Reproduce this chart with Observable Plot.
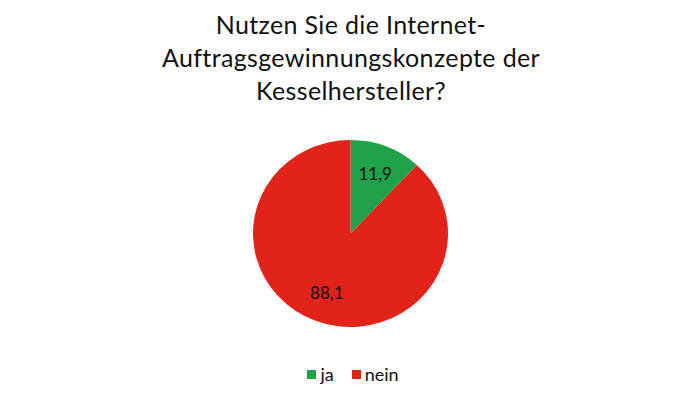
<!DOCTYPE html>
<html>
<head>
<meta charset="utf-8">
<script src="https://cdn.jsdelivr.net/npm/d3@7"></script>
<script src="https://cdn.jsdelivr.net/npm/@observablehq/plot@0.6"></script>
<style>
  html, body { margin: 0; padding: 0; background: #fff; }
  #wrap { width: 700px; height: 396px; overflow: hidden; font-family: Lato, "Open Sans", sans-serif; color: #111; }
  #title { height: 120px; box-sizing: border-box; padding-top: 8px; text-align: center; font-size: 25px; letter-spacing: 0.35px; line-height: 33px; padding-left: 2px; }
  #legend { height: 36px; display: flex; justify-content: center; align-items: center; font-size: 18px; line-height: 30px; padding-left: 6px; box-sizing: border-box; }
  .item { display: flex; align-items: center; margin: 0 9px; }
  .sw { width: 9px; height: 9px; margin-right: 4px; }
  svg { display: block; }
</style>
</head>
<body>
<div id="wrap">
  <div id="title"></div>
  <div id="chart"></div>
  <div id="legend"></div>
</div>
<script>
const titleLines = ["Nutzen Sie die Internet-", "Auftragsgewinnungskonzepte der", "Kesselhersteller?"];
const categories = ["ja", "nein"];
const values = [11.9, 88.1];
const colors = ["#1fa24a", "#e2231a"];

const data = categories.map((c, i) => ({key: c, value: values[i]}));
const arcs = d3.pie().sort(null).value(d => d.value)(data);

const de = d3.formatLocale({decimal: ",", thousands: ".", grouping: [3], currency: ["", " €"]});
const fmt = de.format(".1f");

document.getElementById("title").innerHTML = titleLines.join("<br>");

const W = 700, H = 236;
const cx = 350.5, cy = 113.5, Rx = 97.5, Ry = 93.5;
const labelArc = d3.arc().innerRadius(0.36).outerRadius(1);

const pieMark = Plot.dot(arcs, {
  x: () => 0,
  y: () => 0,
  fill: d => d.data.key,
  render(index, scales, values, dimensions, context) {
    const g = d3.create("svg:g");
    const x0 = scales.x(0), y0 = scales.y(0);
    const rx = scales.x(1) - x0;
    const ry = y0 - scales.y(1);
    const arc = d3.arc().innerRadius(0).outerRadius(rx);
    for (const i of index) {
      g.append("path")
        .attr("transform", `translate(${x0},${y0}) scale(1,${ry / rx})`)
        .attr("d", arc(arcs[i]))
        .attr("fill", values.fill[i]);
    }
    return g.node();
  }
});

const chart = Plot.plot({
  width: W,
  height: H,
  margin: 0,
  x: {domain: [-cx / Rx, (W - cx) / Rx], axis: null},
  y: {domain: [-(H - cy) / Ry, cy / Ry], axis: null},
  color: {domain: categories, range: colors},
  marks: [
    pieMark,
    Plot.text(arcs, {
      x: d => labelArc.centroid(d)[0],
      y: d => -labelArc.centroid(d)[1],
      text: d => fmt(d.data.value),
      fontSize: 17,
      fontFamily: "Lato, 'Open Sans', sans-serif",
      fill: "#111"
    })
  ]
});
document.getElementById("chart").append(chart);

const legend = d3.select("#legend");
categories.forEach((c, i) => {
  const it = legend.append("div").attr("class", "item");
  it.append("div").attr("class", "sw").style("background", colors[i]);
  it.append("span").text(c);
});
</script>
</body>
</html>
